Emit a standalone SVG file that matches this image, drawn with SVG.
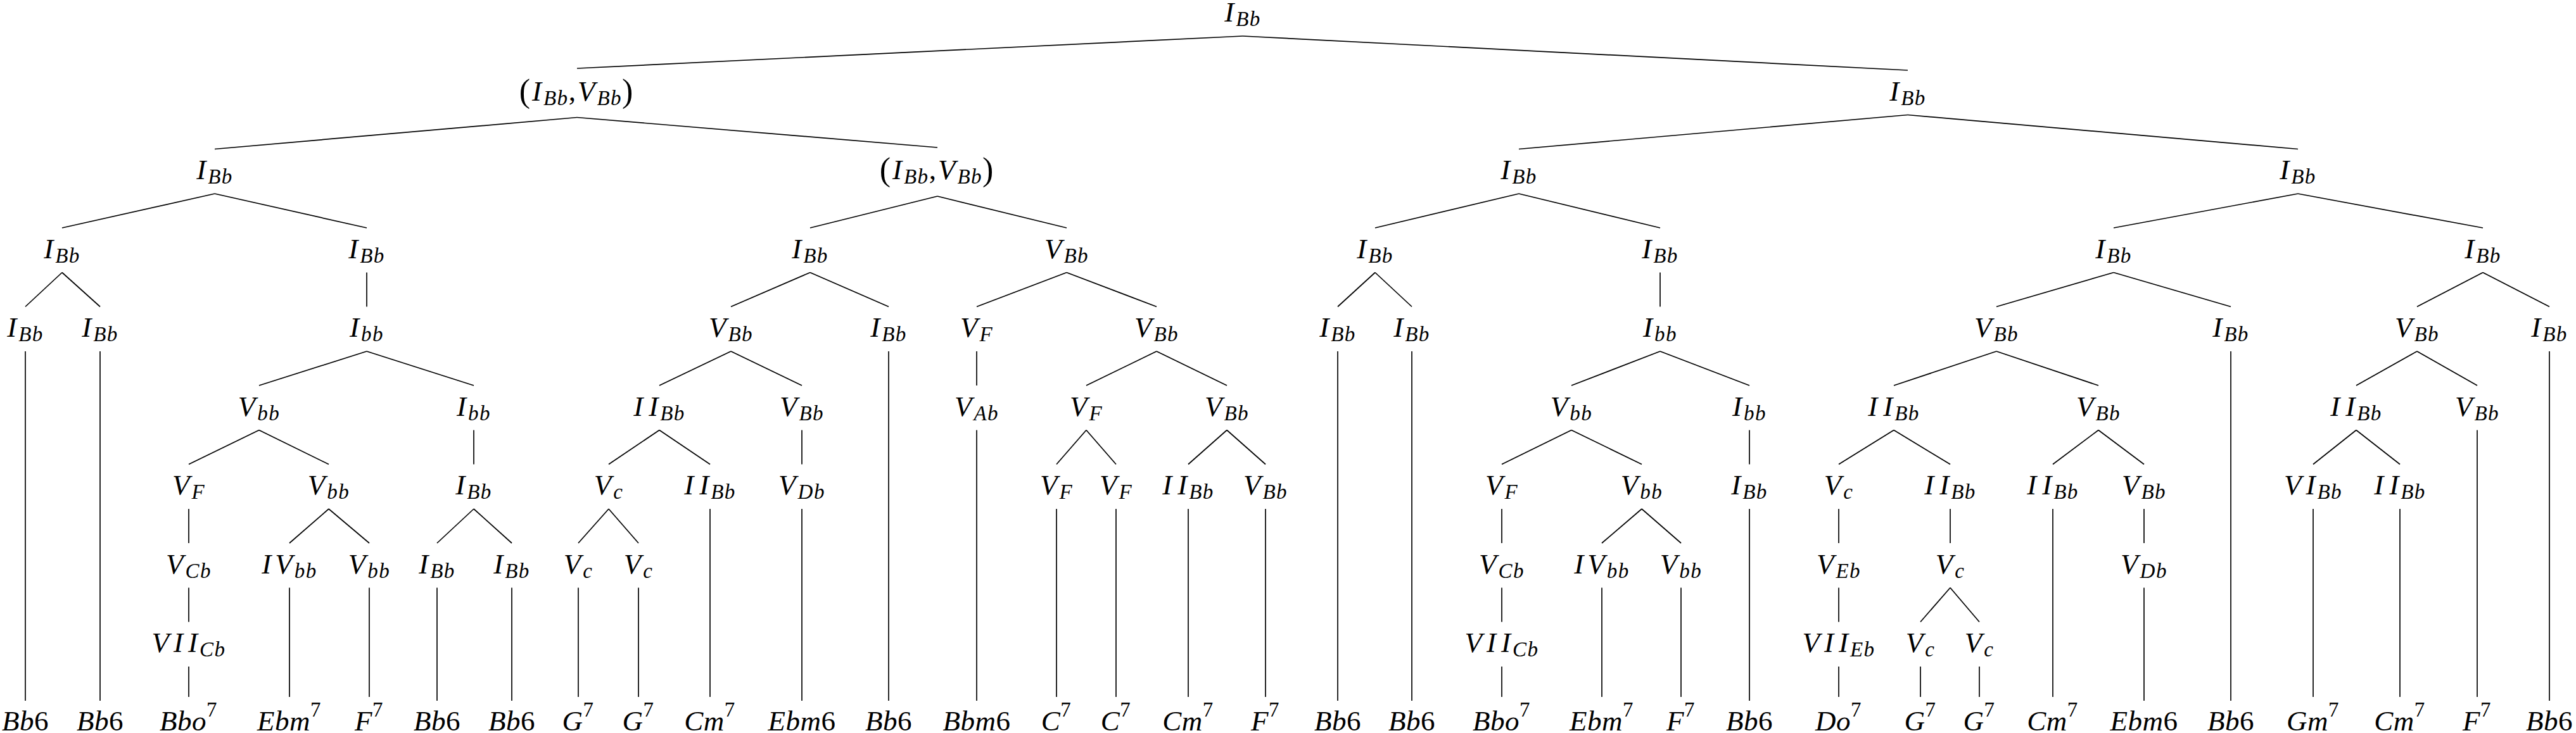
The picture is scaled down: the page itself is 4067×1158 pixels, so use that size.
<svg xmlns="http://www.w3.org/2000/svg" width="4067" height="1158" viewBox="0 0 4067 1158">
<style>
.n{font-family:"Liberation Serif","Times New Roman",serif;font-style:italic;font-size:45px;text-anchor:middle;fill:#000;letter-spacing:3px}
.s{font-size:33px;letter-spacing:1.5px}
.u{font-style:normal}
.p{font-style:normal;font-size:52px}
.lf{letter-spacing:0.5px}
#edges line{stroke:#000;stroke-width:1.7;fill:none}
</style>
<rect width="4067" height="1158" fill="#fff"/>
<g id="edges">
<line x1="1962" y1="57" x2="911" y2="108"/>
<line x1="1962" y1="57" x2="3012" y2="111"/>
<line x1="911" y1="185.5" x2="339" y2="235.5"/>
<line x1="911" y1="185.5" x2="1480" y2="233"/>
<line x1="339" y1="306" x2="98" y2="360"/>
<line x1="339" y1="306" x2="579" y2="360"/>
<line x1="98" y1="430.5" x2="40" y2="484.5"/>
<line x1="98" y1="430.5" x2="158" y2="484.5"/>
<line x1="40" y1="555" x2="40" y2="1107"/>
<line x1="158" y1="555" x2="158" y2="1107"/>
<line x1="579" y1="430.5" x2="579" y2="484.5"/>
<line x1="579" y1="555" x2="409" y2="609"/>
<line x1="579" y1="555" x2="748" y2="609"/>
<line x1="409" y1="679.5" x2="298" y2="733.5"/>
<line x1="409" y1="679.5" x2="519" y2="733.5"/>
<line x1="298" y1="804" x2="298" y2="858"/>
<line x1="298" y1="928.5" x2="298" y2="982.5"/>
<line x1="298" y1="1053" x2="298" y2="1101"/>
<line x1="519" y1="804" x2="457" y2="858"/>
<line x1="519" y1="804" x2="583" y2="858"/>
<line x1="457" y1="928.5" x2="457" y2="1101"/>
<line x1="583" y1="928.5" x2="583" y2="1101"/>
<line x1="748" y1="679.5" x2="748" y2="733.5"/>
<line x1="748" y1="804" x2="690" y2="858"/>
<line x1="748" y1="804" x2="808" y2="858"/>
<line x1="690" y1="928.5" x2="690" y2="1107"/>
<line x1="808" y1="928.5" x2="808" y2="1107"/>
<line x1="1480" y1="310" x2="1279" y2="360"/>
<line x1="1480" y1="310" x2="1684" y2="360"/>
<line x1="1279" y1="430.5" x2="1154" y2="484.5"/>
<line x1="1279" y1="430.5" x2="1403" y2="484.5"/>
<line x1="1403" y1="555" x2="1403" y2="1107"/>
<line x1="1154" y1="555" x2="1041" y2="609"/>
<line x1="1154" y1="555" x2="1266" y2="609"/>
<line x1="1041" y1="679.5" x2="961" y2="733.5"/>
<line x1="1041" y1="679.5" x2="1121" y2="733.5"/>
<line x1="1121" y1="804" x2="1121" y2="1101"/>
<line x1="961" y1="804" x2="913" y2="858"/>
<line x1="961" y1="804" x2="1008" y2="858"/>
<line x1="913" y1="928.5" x2="913" y2="1101"/>
<line x1="1008" y1="928.5" x2="1008" y2="1101"/>
<line x1="1266" y1="679.5" x2="1266" y2="733.5"/>
<line x1="1266" y1="804" x2="1266" y2="1107"/>
<line x1="1684" y1="430.5" x2="1542" y2="484.5"/>
<line x1="1684" y1="430.5" x2="1826" y2="484.5"/>
<line x1="1542" y1="555" x2="1542" y2="609"/>
<line x1="1542" y1="679.5" x2="1542" y2="1107"/>
<line x1="1826" y1="555" x2="1715" y2="609"/>
<line x1="1826" y1="555" x2="1937" y2="609"/>
<line x1="1715" y1="679.5" x2="1668" y2="733.5"/>
<line x1="1715" y1="679.5" x2="1762" y2="733.5"/>
<line x1="1668" y1="804" x2="1668" y2="1101"/>
<line x1="1762" y1="804" x2="1762" y2="1101"/>
<line x1="1937" y1="679.5" x2="1876" y2="733.5"/>
<line x1="1937" y1="679.5" x2="1998" y2="733.5"/>
<line x1="1876" y1="804" x2="1876" y2="1101"/>
<line x1="1998" y1="804" x2="1998" y2="1101"/>
<line x1="3012" y1="181.5" x2="2398" y2="235.5"/>
<line x1="3012" y1="181.5" x2="3628" y2="235.5"/>
<line x1="2398" y1="306" x2="2171" y2="360"/>
<line x1="2398" y1="306" x2="2621" y2="360"/>
<line x1="2171" y1="430.5" x2="2112" y2="484.5"/>
<line x1="2171" y1="430.5" x2="2229" y2="484.5"/>
<line x1="2112" y1="555" x2="2112" y2="1107"/>
<line x1="2229" y1="555" x2="2229" y2="1107"/>
<line x1="2621" y1="430.5" x2="2621" y2="484.5"/>
<line x1="2621" y1="555" x2="2481" y2="609"/>
<line x1="2621" y1="555" x2="2762" y2="609"/>
<line x1="2481" y1="679.5" x2="2371" y2="733.5"/>
<line x1="2481" y1="679.5" x2="2592" y2="733.5"/>
<line x1="2371" y1="804" x2="2371" y2="858"/>
<line x1="2371" y1="928.5" x2="2371" y2="982.5"/>
<line x1="2371" y1="1053" x2="2371" y2="1101"/>
<line x1="2592" y1="804" x2="2529" y2="858"/>
<line x1="2592" y1="804" x2="2654" y2="858"/>
<line x1="2529" y1="928.5" x2="2529" y2="1101"/>
<line x1="2654" y1="928.5" x2="2654" y2="1101"/>
<line x1="2762" y1="679.5" x2="2762" y2="733.5"/>
<line x1="2762" y1="804" x2="2762" y2="1107"/>
<line x1="3628" y1="306" x2="3337" y2="360"/>
<line x1="3628" y1="306" x2="3920" y2="360"/>
<line x1="3337" y1="430.5" x2="3152" y2="484.5"/>
<line x1="3337" y1="430.5" x2="3522" y2="484.5"/>
<line x1="3522" y1="555" x2="3522" y2="1107"/>
<line x1="3152" y1="555" x2="2990" y2="609"/>
<line x1="3152" y1="555" x2="3313" y2="609"/>
<line x1="2990" y1="679.5" x2="2903" y2="733.5"/>
<line x1="2990" y1="679.5" x2="3079" y2="733.5"/>
<line x1="2903" y1="804" x2="2903" y2="858"/>
<line x1="2903" y1="928.5" x2="2903" y2="982.5"/>
<line x1="2903" y1="1053" x2="2903" y2="1101"/>
<line x1="3079" y1="804" x2="3079" y2="858"/>
<line x1="3079" y1="928.5" x2="3032" y2="982.5"/>
<line x1="3079" y1="928.5" x2="3125" y2="982.5"/>
<line x1="3032" y1="1053" x2="3032" y2="1101"/>
<line x1="3125" y1="1053" x2="3125" y2="1101"/>
<line x1="3313" y1="679.5" x2="3241" y2="733.5"/>
<line x1="3313" y1="679.5" x2="3385" y2="733.5"/>
<line x1="3241" y1="804" x2="3241" y2="1101"/>
<line x1="3385" y1="804" x2="3385" y2="858"/>
<line x1="3385" y1="928.5" x2="3385" y2="1107"/>
<line x1="3920" y1="430.5" x2="3816" y2="484.5"/>
<line x1="3920" y1="430.5" x2="4025" y2="484.5"/>
<line x1="4025" y1="555" x2="4025" y2="1107"/>
<line x1="3816" y1="555" x2="3720" y2="609"/>
<line x1="3816" y1="555" x2="3911" y2="609"/>
<line x1="3911" y1="679.5" x2="3911" y2="1101"/>
<line x1="3720" y1="679.5" x2="3652" y2="733.5"/>
<line x1="3720" y1="679.5" x2="3789" y2="733.5"/>
<line x1="3652" y1="804" x2="3652" y2="1101"/>
<line x1="3789" y1="804" x2="3789" y2="1101"/>
</g>
<g id="n0"><text class="n" x="1962" y="34">I<tspan class="s" dy="7">Bb</tspan></text></g>
<g id="n1"><text class="n" x="911" y="158.5"><tspan class="p" dy="2">(</tspan><tspan dy="-2">I</tspan><tspan class="s" dy="7">Bb</tspan><tspan class="u" dy="-7">,</tspan>V<tspan class="s" dy="7">Bb</tspan><tspan class="p" dy="-5">)</tspan></text></g>
<g id="n2"><text class="n" x="3012" y="158.5">I<tspan class="s" dy="7">Bb</tspan></text></g>
<g id="n3"><text class="n" x="339" y="283">I<tspan class="s" dy="7">Bb</tspan></text></g>
<g id="n4"><text class="n" x="1480" y="283"><tspan class="p" dy="2">(</tspan><tspan dy="-2">I</tspan><tspan class="s" dy="7">Bb</tspan><tspan class="u" dy="-7">,</tspan>V<tspan class="s" dy="7">Bb</tspan><tspan class="p" dy="-5">)</tspan></text></g>
<g id="n5"><text class="n" x="98" y="407.5">I<tspan class="s" dy="7">Bb</tspan></text></g>
<g id="n6"><text class="n" x="579" y="407.5">I<tspan class="s" dy="7">Bb</tspan></text></g>
<g id="n7"><text class="n" x="40" y="532">I<tspan class="s" dy="7">Bb</tspan></text></g>
<g id="n8"><text class="n" x="158" y="532">I<tspan class="s" dy="7">Bb</tspan></text></g>
<g id="n9"><text class="n" x="579" y="532">I<tspan class="s" dy="7">bb</tspan></text></g>
<g id="n10"><text class="n" x="409" y="656.5">V<tspan class="s" dy="7">bb</tspan></text></g>
<g id="n11"><text class="n" x="748" y="656.5">I<tspan class="s" dy="7">bb</tspan></text></g>
<g id="n12"><text class="n" x="298" y="781">V<tspan class="s" dy="7">F</tspan></text></g>
<g id="n13"><text class="n" x="519" y="781">V<tspan class="s" dy="7">bb</tspan></text></g>
<g id="n14"><text class="n" x="298" y="905.5">V<tspan class="s" dy="7">Cb</tspan></text></g>
<g id="n15"><text class="n" x="298" y="1030">V<tspan dx="4">I</tspan><tspan dx="5">I</tspan><tspan class="s" dy="7">Cb</tspan></text></g>
<g id="n16"><text class="n" x="457" y="905.5">I<tspan dx="3">V</tspan><tspan class="s" dy="7">bb</tspan></text></g>
<g id="n17"><text class="n" x="583" y="905.5">V<tspan class="s" dy="7">bb</tspan></text></g>
<g id="n18"><text class="n" x="748" y="781">I<tspan class="s" dy="7">Bb</tspan></text></g>
<g id="n19"><text class="n" x="690" y="905.5">I<tspan class="s" dy="7">Bb</tspan></text></g>
<g id="n20"><text class="n" x="808" y="905.5">I<tspan class="s" dy="7">Bb</tspan></text></g>
<g id="n21"><text class="n" x="1279" y="407.5">I<tspan class="s" dy="7">Bb</tspan></text></g>
<g id="n22"><text class="n" x="1684" y="407.5">V<tspan class="s" dy="7">Bb</tspan></text></g>
<g id="n23"><text class="n" x="1154" y="532">V<tspan class="s" dy="7">Bb</tspan></text></g>
<g id="n24"><text class="n" x="1403" y="532">I<tspan class="s" dy="7">Bb</tspan></text></g>
<g id="n25"><text class="n" x="1041" y="656.5">I<tspan dx="6">I</tspan><tspan class="s" dy="7">Bb</tspan></text></g>
<g id="n26"><text class="n" x="1266" y="656.5">V<tspan class="s" dy="7">Bb</tspan></text></g>
<g id="n27"><text class="n" x="961" y="781">V<tspan class="s" dy="7">c</tspan></text></g>
<g id="n28"><text class="n" x="1121" y="781">I<tspan dx="6">I</tspan><tspan class="s" dy="7">Bb</tspan></text></g>
<g id="n29"><text class="n" x="913" y="905.5">V<tspan class="s" dy="7">c</tspan></text></g>
<g id="n30"><text class="n" x="1008" y="905.5">V<tspan class="s" dy="7">c</tspan></text></g>
<g id="n31"><text class="n" x="1266" y="781">V<tspan class="s" dy="7">Db</tspan></text></g>
<g id="n32"><text class="n" x="1542" y="532">V<tspan class="s" dy="7">F</tspan></text></g>
<g id="n33"><text class="n" x="1826" y="532">V<tspan class="s" dy="7">Bb</tspan></text></g>
<g id="n34"><text class="n" x="1542" y="656.5">V<tspan class="s" dy="7">Ab</tspan></text></g>
<g id="n35"><text class="n" x="1715" y="656.5">V<tspan class="s" dy="7">F</tspan></text></g>
<g id="n36"><text class="n" x="1937" y="656.5">V<tspan class="s" dy="7">Bb</tspan></text></g>
<g id="n37"><text class="n" x="1668" y="781">V<tspan class="s" dy="7">F</tspan></text></g>
<g id="n38"><text class="n" x="1762" y="781">V<tspan class="s" dy="7">F</tspan></text></g>
<g id="n39"><text class="n" x="1876" y="781">I<tspan dx="6">I</tspan><tspan class="s" dy="7">Bb</tspan></text></g>
<g id="n40"><text class="n" x="1998" y="781">V<tspan class="s" dy="7">Bb</tspan></text></g>
<g id="n41"><text class="n" x="2398" y="283">I<tspan class="s" dy="7">Bb</tspan></text></g>
<g id="n42"><text class="n" x="3628" y="283">I<tspan class="s" dy="7">Bb</tspan></text></g>
<g id="n43"><text class="n" x="2171" y="407.5">I<tspan class="s" dy="7">Bb</tspan></text></g>
<g id="n44"><text class="n" x="2621" y="407.5">I<tspan class="s" dy="7">Bb</tspan></text></g>
<g id="n45"><text class="n" x="2112" y="532">I<tspan class="s" dy="7">Bb</tspan></text></g>
<g id="n46"><text class="n" x="2229" y="532">I<tspan class="s" dy="7">Bb</tspan></text></g>
<g id="n47"><text class="n" x="2621" y="532">I<tspan class="s" dy="7">bb</tspan></text></g>
<g id="n48"><text class="n" x="2481" y="656.5">V<tspan class="s" dy="7">bb</tspan></text></g>
<g id="n49"><text class="n" x="2762" y="656.5">I<tspan class="s" dy="7">bb</tspan></text></g>
<g id="n50"><text class="n" x="2371" y="781">V<tspan class="s" dy="7">F</tspan></text></g>
<g id="n51"><text class="n" x="2592" y="781">V<tspan class="s" dy="7">bb</tspan></text></g>
<g id="n52"><text class="n" x="2371" y="905.5">V<tspan class="s" dy="7">Cb</tspan></text></g>
<g id="n53"><text class="n" x="2371" y="1030">V<tspan dx="4">I</tspan><tspan dx="5">I</tspan><tspan class="s" dy="7">Cb</tspan></text></g>
<g id="n54"><text class="n" x="2529" y="905.5">I<tspan dx="3">V</tspan><tspan class="s" dy="7">bb</tspan></text></g>
<g id="n55"><text class="n" x="2654" y="905.5">V<tspan class="s" dy="7">bb</tspan></text></g>
<g id="n56"><text class="n" x="2762" y="781">I<tspan class="s" dy="7">Bb</tspan></text></g>
<g id="n57"><text class="n" x="3337" y="407.5">I<tspan class="s" dy="7">Bb</tspan></text></g>
<g id="n58"><text class="n" x="3920" y="407.5">I<tspan class="s" dy="7">Bb</tspan></text></g>
<g id="n59"><text class="n" x="3152" y="532">V<tspan class="s" dy="7">Bb</tspan></text></g>
<g id="n60"><text class="n" x="3522" y="532">I<tspan class="s" dy="7">Bb</tspan></text></g>
<g id="n61"><text class="n" x="2990" y="656.5">I<tspan dx="6">I</tspan><tspan class="s" dy="7">Bb</tspan></text></g>
<g id="n62"><text class="n" x="3313" y="656.5">V<tspan class="s" dy="7">Bb</tspan></text></g>
<g id="n63"><text class="n" x="2903" y="781">V<tspan class="s" dy="7">c</tspan></text></g>
<g id="n64"><text class="n" x="3079" y="781">I<tspan dx="6">I</tspan><tspan class="s" dy="7">Bb</tspan></text></g>
<g id="n65"><text class="n" x="2903" y="905.5">V<tspan class="s" dy="7">Eb</tspan></text></g>
<g id="n66"><text class="n" x="2903" y="1030">V<tspan dx="4">I</tspan><tspan dx="5">I</tspan><tspan class="s" dy="7">Eb</tspan></text></g>
<g id="n67"><text class="n" x="3079" y="905.5">V<tspan class="s" dy="7">c</tspan></text></g>
<g id="n68"><text class="n" x="3032" y="1030">V<tspan class="s" dy="7">c</tspan></text></g>
<g id="n69"><text class="n" x="3125" y="1030">V<tspan class="s" dy="7">c</tspan></text></g>
<g id="n70"><text class="n" x="3241" y="781">I<tspan dx="6">I</tspan><tspan class="s" dy="7">Bb</tspan></text></g>
<g id="n71"><text class="n" x="3385" y="781">V<tspan class="s" dy="7">Bb</tspan></text></g>
<g id="n72"><text class="n" x="3385" y="905.5">V<tspan class="s" dy="7">Db</tspan></text></g>
<g id="n73"><text class="n" x="3816" y="532">V<tspan class="s" dy="7">Bb</tspan></text></g>
<g id="n74"><text class="n" x="4025" y="532">I<tspan class="s" dy="7">Bb</tspan></text></g>
<g id="n75"><text class="n" x="3720" y="656.5">I<tspan dx="6">I</tspan><tspan class="s" dy="7">Bb</tspan></text></g>
<g id="n76"><text class="n" x="3911" y="656.5">V<tspan class="s" dy="7">Bb</tspan></text></g>
<g id="n77"><text class="n" x="3652" y="781">V<tspan dx="4">I</tspan><tspan class="s" dy="7">Bb</tspan></text></g>
<g id="n78"><text class="n" x="3789" y="781">I<tspan dx="6">I</tspan><tspan class="s" dy="7">Bb</tspan></text></g>
<g id="leaf1"><text class="n lf" x="40" y="1154">Bb<tspan class="u">6</tspan></text></g>
<g id="leaf2"><text class="n lf" x="158" y="1154">Bb<tspan class="u">6</tspan></text></g>
<g id="leaf3"><text class="n lf" x="298" y="1154">Bbo<tspan class="s u" dy="-22">7</tspan></text></g>
<g id="leaf4"><text class="n lf" x="457" y="1154">Ebm<tspan class="s u" dy="-22">7</tspan></text></g>
<g id="leaf5"><text class="n lf" x="583" y="1154">F<tspan class="s u" dy="-22">7</tspan></text></g>
<g id="leaf6"><text class="n lf" x="690" y="1154">Bb<tspan class="u">6</tspan></text></g>
<g id="leaf7"><text class="n lf" x="808" y="1154">Bb<tspan class="u">6</tspan></text></g>
<g id="leaf8"><text class="n lf" x="913" y="1154">G<tspan class="s u" dy="-22">7</tspan></text></g>
<g id="leaf9"><text class="n lf" x="1008" y="1154">G<tspan class="s u" dy="-22">7</tspan></text></g>
<g id="leaf10"><text class="n lf" x="1121" y="1154">Cm<tspan class="s u" dy="-22">7</tspan></text></g>
<g id="leaf11"><text class="n lf" x="1266" y="1154">Ebm<tspan class="u">6</tspan></text></g>
<g id="leaf12"><text class="n lf" x="1403" y="1154">Bb<tspan class="u">6</tspan></text></g>
<g id="leaf13"><text class="n lf" x="1542" y="1154">Bbm<tspan class="u">6</tspan></text></g>
<g id="leaf14"><text class="n lf" x="1668" y="1154">C<tspan class="s u" dy="-22">7</tspan></text></g>
<g id="leaf15"><text class="n lf" x="1762" y="1154">C<tspan class="s u" dy="-22">7</tspan></text></g>
<g id="leaf16"><text class="n lf" x="1876" y="1154">Cm<tspan class="s u" dy="-22">7</tspan></text></g>
<g id="leaf17"><text class="n lf" x="1998" y="1154">F<tspan class="s u" dy="-22">7</tspan></text></g>
<g id="leaf18"><text class="n lf" x="2112" y="1154">Bb<tspan class="u">6</tspan></text></g>
<g id="leaf19"><text class="n lf" x="2229" y="1154">Bb<tspan class="u">6</tspan></text></g>
<g id="leaf20"><text class="n lf" x="2371" y="1154">Bbo<tspan class="s u" dy="-22">7</tspan></text></g>
<g id="leaf21"><text class="n lf" x="2529" y="1154">Ebm<tspan class="s u" dy="-22">7</tspan></text></g>
<g id="leaf22"><text class="n lf" x="2654" y="1154">F<tspan class="s u" dy="-22">7</tspan></text></g>
<g id="leaf23"><text class="n lf" x="2762" y="1154">Bb<tspan class="u">6</tspan></text></g>
<g id="leaf24"><text class="n lf" x="2903" y="1154">Do<tspan class="s u" dy="-22">7</tspan></text></g>
<g id="leaf25"><text class="n lf" x="3032" y="1154">G<tspan class="s u" dy="-22">7</tspan></text></g>
<g id="leaf26"><text class="n lf" x="3125" y="1154">G<tspan class="s u" dy="-22">7</tspan></text></g>
<g id="leaf27"><text class="n lf" x="3241" y="1154">Cm<tspan class="s u" dy="-22">7</tspan></text></g>
<g id="leaf28"><text class="n lf" x="3385" y="1154">Ebm<tspan class="u">6</tspan></text></g>
<g id="leaf29"><text class="n lf" x="3522" y="1154">Bb<tspan class="u">6</tspan></text></g>
<g id="leaf30"><text class="n lf" x="3652" y="1154">Gm<tspan class="s u" dy="-22">7</tspan></text></g>
<g id="leaf31"><text class="n lf" x="3789" y="1154">Cm<tspan class="s u" dy="-22">7</tspan></text></g>
<g id="leaf32"><text class="n lf" x="3911" y="1154">F<tspan class="s u" dy="-22">7</tspan></text></g>
<g id="leaf33"><text class="n lf" x="4025" y="1154">Bb<tspan class="u">6</tspan></text></g>
</svg>
